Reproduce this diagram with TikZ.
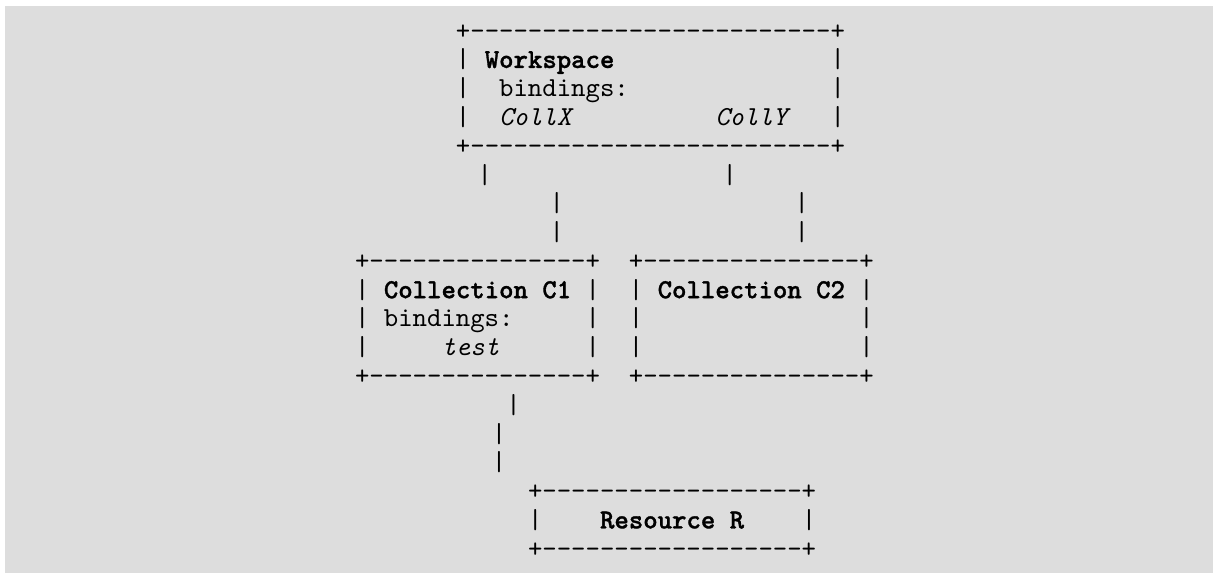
\documentclass[tikz,border=0pt]{standalone}
\usepackage{fontspec}
\setmonofont{lmmono10-regular}[Extension=.otf, BoldFont=lmmonolt10-bold,
  BoldFeatures={FakeBold=1.2}, ItalicFont=lmmono10-italic]
\usepackage{tikz}
\usetikzlibrary{positioning}
\definecolor{panelgray}{RGB}{221,221,221}
\newlength{\colw}\setlength{\colw}{7.205pt}
\newcommand{\colgap}[1]{\hspace*{#1\colw}}
\newcommand{\bnd}[1]{{\itshape #1}}
\tikzstyle{ascii}=[anchor=base west, inner sep=0pt, outer sep=0pt, yshift=-3.43pt,
                   font=\fontsize{13.72pt}{14.39pt}\selectfont\ttfamily, text=black]

\begin{document}
\begin{tikzpicture}[x=7.205pt, y=-14.39pt]

  % ── panel ──────────────────────────────────────────────────────────────────
  \fill[white] (-24.642,-1.1223) rectangle (59.535,18.787);
  \fill[panelgray] (-24.295,-0.9138) rectangle (59.535,18.787);
  \useasboundingbox (-24.642,-1.1223) rectangle (59.535,18.787);

  % ── workspace box ──────────────────────────────────────────────────────────
  \node[ascii] (wstop)  at (7,0) {+-------------------------+};
  \node[ascii] (wsname) at (7,1) {|\colgap{1}{\bfseries Workspace}\colgap{15}|};
  \node[ascii] (wsbind) at (7,2) {|\colgap{2}bindings:\colgap{14}|};
  \node[ascii] (wscoll) at (7,3) {|\colgap{2}\bnd{CollX}\colgap{10}\bnd{CollY}\colgap{3}|};
  \node[ascii] (wsbot)  at (7,4) {+-------------------------+};

  % ── links workspace -> collections ─────────────────────────────────────────
  \node[ascii] (lxa) at (8.5,5)  {|};
  \node[ascii] (lya) at (25.5,5) {|};
  \node[ascii] (lxb) at (13.5,6) {|};
  \node[ascii] (lyb) at (30.5,6) {|};
  \node[ascii] (lxc) at (13.5,7) {|};
  \node[ascii] (lyc) at (30.5,7) {|};

  % ── collection boxes ───────────────────────────────────────────────────────
  \node[ascii] (cxtop)  at (0,8)  {+---------------+};
  \node[ascii] (cxname) at (0,9)  {|\colgap{1}{\bfseries Collection C1}\colgap{1}|};
  \node[ascii] (cxbind) at (0,10) {|\colgap{1}bindings:\colgap{5}|};
  \node[ascii] (cxtest) at (0,11) {|\colgap{5}\bnd{test}\colgap{6}|};
  \node[ascii] (cxbot)  at (0,12) {+---------------+};

  \node[ascii] (cytop)  at (19,8)  {+---------------+};
  \node[ascii] (cyname) at (19,9)  {|\colgap{1}{\bfseries Collection C2}\colgap{1}|};
  \node[ascii] (cyrowa) at (19,10) {|\colgap{15}|};
  \node[ascii] (cyrowb) at (19,11) {|\colgap{15}|};
  \node[ascii] (cybot)  at (19,12) {+---------------+};

  % ── link collection -> resource ────────────────────────────────────────────
  \node[ascii] (lra) at (10.5,13) {|};
  \node[ascii] (lrb) at (9.5,14)  {|};
  \node[ascii] (lrc) at (9.5,15)  {|};

  % ── resource box ───────────────────────────────────────────────────────────
  \node[ascii] (rstop)  at (12,16) {+------------------+};
  \node[ascii] (rsname) at (12,17) {|\colgap{4}{\bfseries Resource R}\colgap{4}|};
  \node[ascii] (rsbot)  at (12,18) {+------------------+};

\end{tikzpicture}
\end{document}
